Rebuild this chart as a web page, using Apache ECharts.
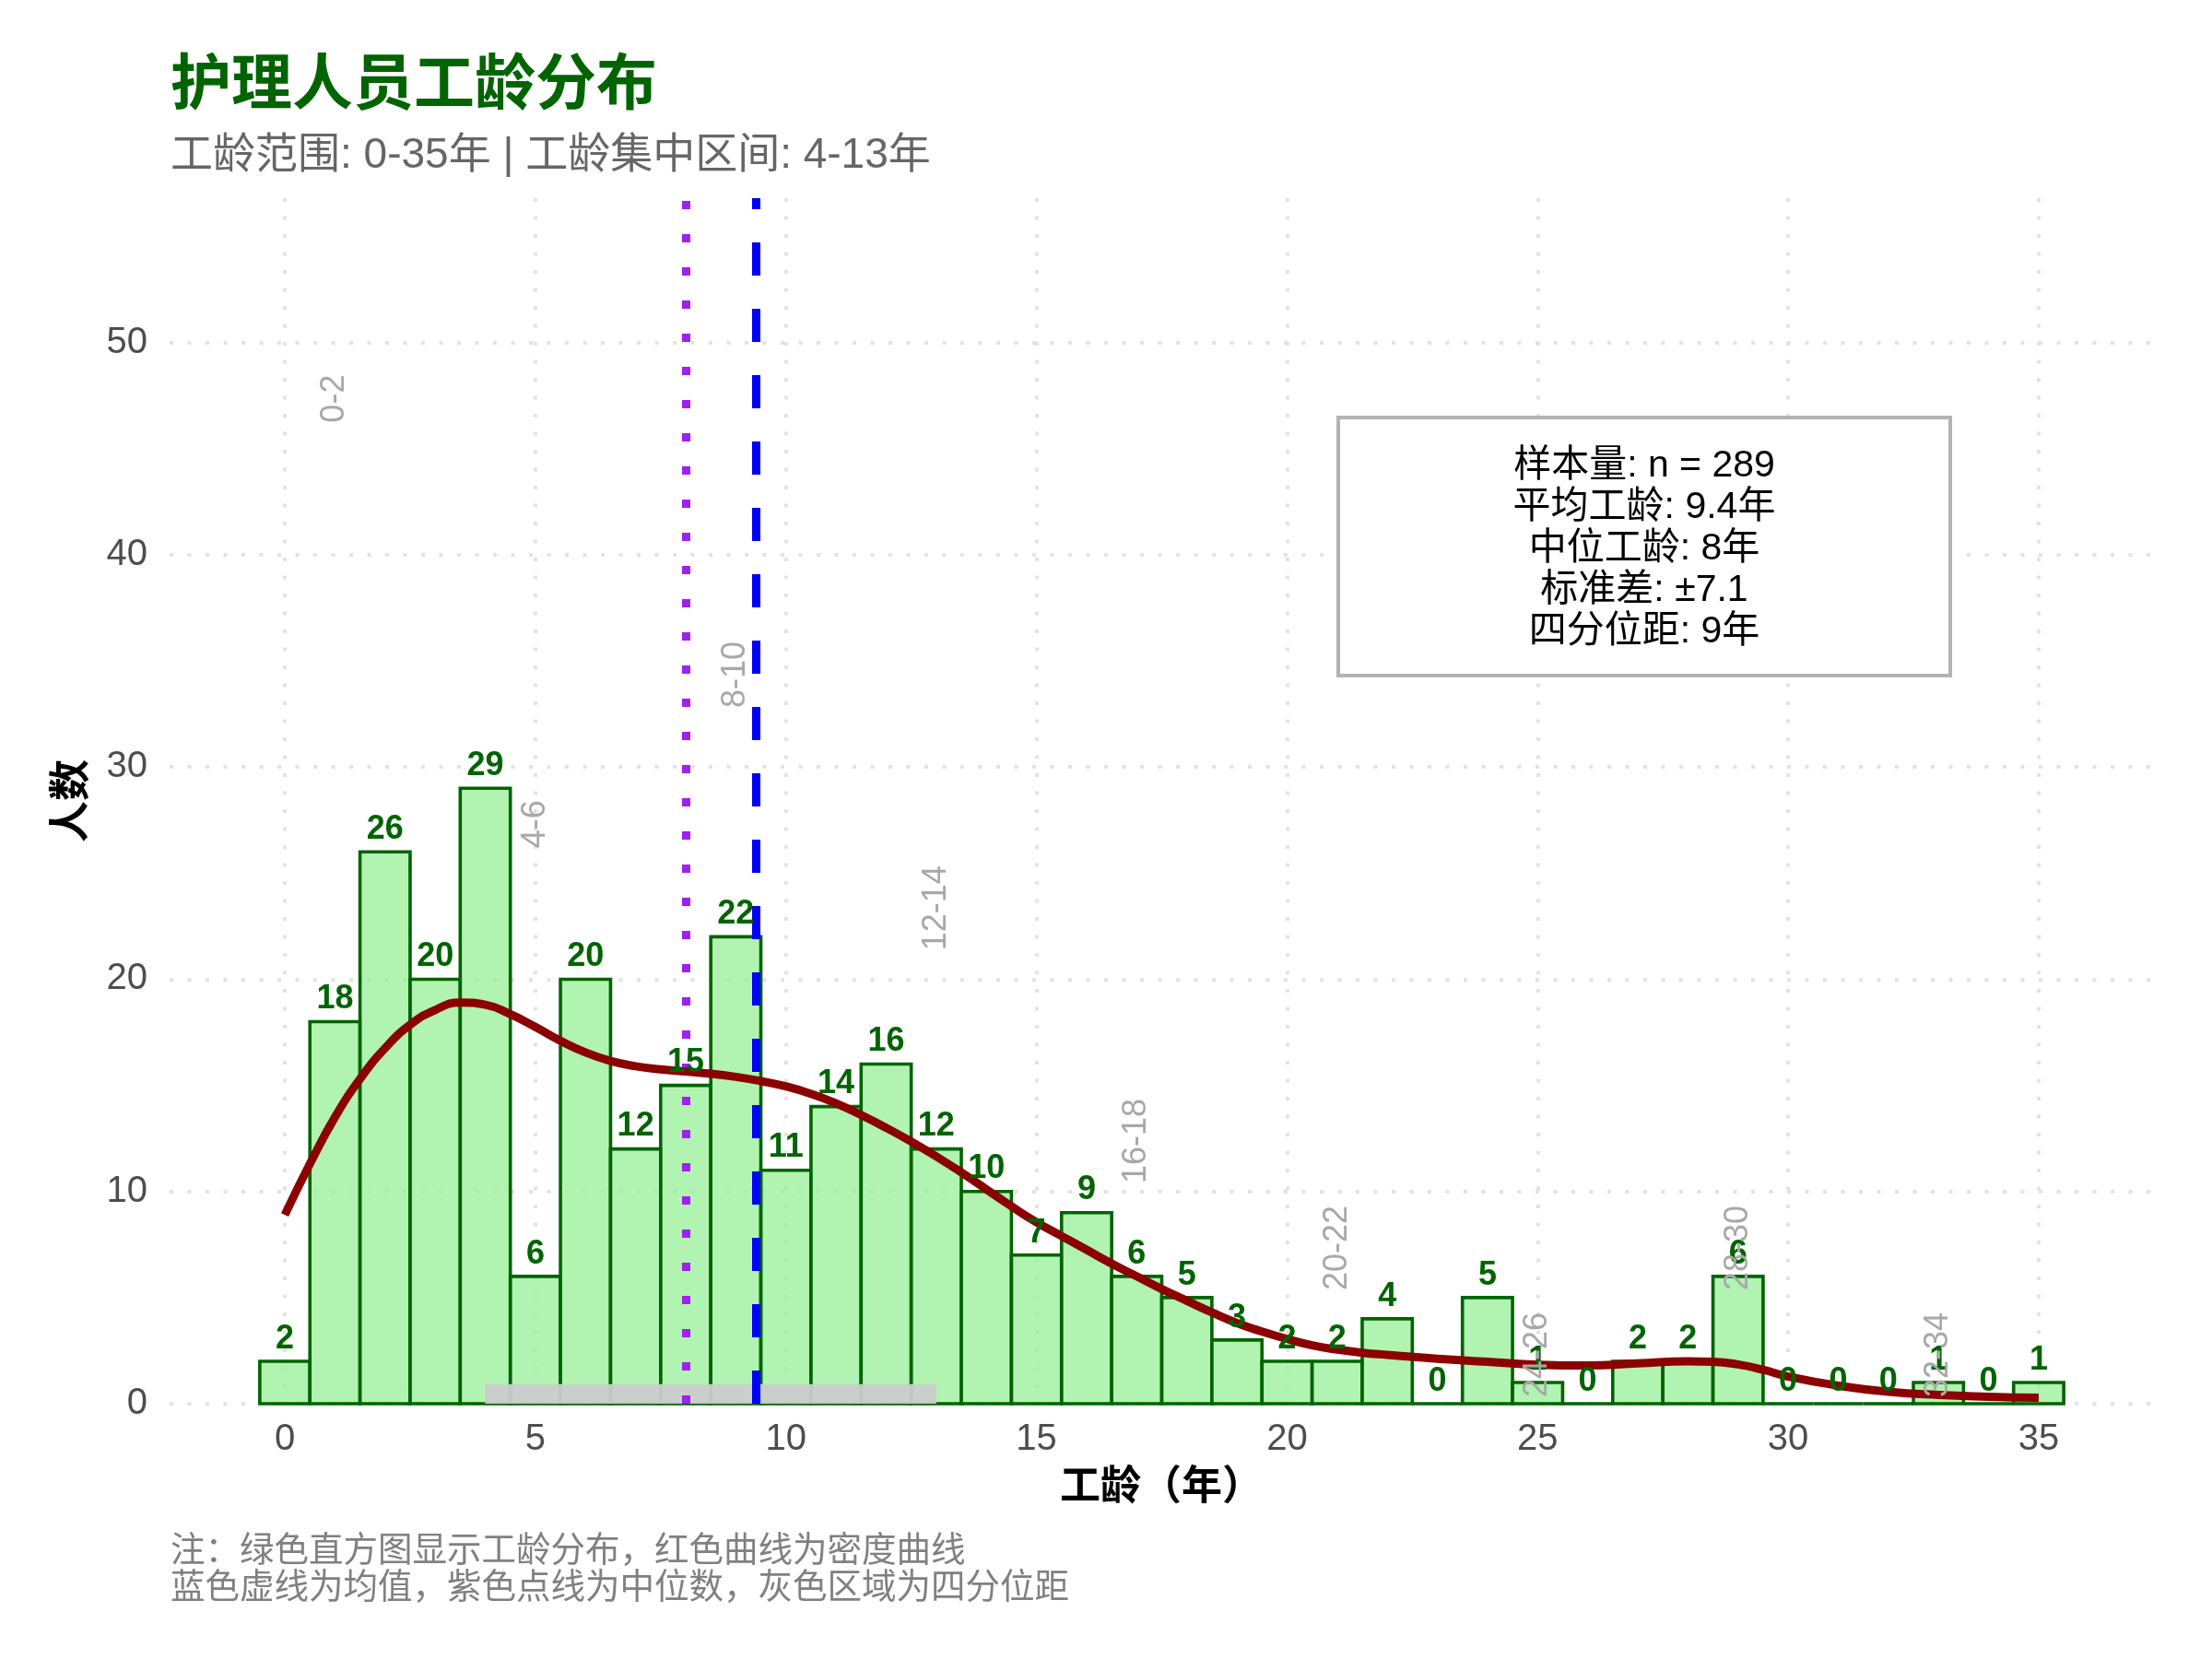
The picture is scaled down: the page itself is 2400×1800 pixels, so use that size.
<!DOCTYPE html>
<html><head><meta charset="utf-8">
<script src="https://cdn.jsdelivr.net/npm/echarts@6/dist/echarts.min.js"></script>
<style>html,body{margin:0;padding:0;background:#fff}#c{width:2400px;height:1800px}</style>
</head><body><div id="c"></div>
<script>
// ---- data ----
const years  = [0,1,2,3,4,5,6,7,8,9,10,11,12,13,14,15,16,17,18,19,20,21,22,23,24,25,26,27,28,29,30,31,32,33,34,35];
const counts = [2,18,26,20,29,6,20,12,15,22,11,14,16,12,10,7,9,6,5,3,2,2,4,0,5,1,0,2,2,6,0,0,0,1,0,1];
const densityX = [0,0.5,1,1.5,2,2.5,3,3.5,4,4.5,5,5.5,6,6.5,7,7.5,8,8.5,9,9.5,10,10.5,11,11.5,12,12.5,13,13.5,14,14.5,15,15.5,16,16.5,17,17.5,18,18.5,19,19.5,20,20.5,21,21.5,22,23,24,25,26,27,28,28.5,29,29.5,30,31,32,33,34,35];
const densityY = [8.9,11.3,13.5,15.3,16.75,17.85,18.55,18.9,18.8,18.35,17.75,17.1,16.55,16.15,15.9,15.75,15.65,15.55,15.4,15.2,14.95,14.6,14.15,13.6,13.0,12.35,11.65,10.9,10.1,9.3,8.55,7.9,7.25,6.6,6.0,5.4,4.85,4.3,3.8,3.4,3.05,2.75,2.55,2.4,2.3,2.12,1.98,1.84,1.8,1.9,2.0,1.98,1.85,1.6,1.28,0.85,0.56,0.41,0.33,0.28];
const rangeLabels = ['0-2','4-6','8-10','12-14','16-18','20-22','24-26','28-30','32-34'];
const rangeLabelX = [1,5,9,13,17,21,25,29,33];
const rangeLabelY = [47.35,27.3,34.35,23.35,12.38,7.34,2.3,7.34,2.3];
const meanYears = 9.4, medianYears = 8, q1Years = 4, q3Years = 13, iqrBandTop = 0.92;
const xTicks = [0,5,10,15,20,25,30,35];
const yTicks = [0,10,20,30,40,50];
const titleText = '护理人员工龄分布';
const subtitleText = '工龄范围: 0-35年 | 工龄集中区间: 4-13年';
const statsLines = ['样本量: n = 289','平均工龄: 9.4年','中位工龄: 8年','标准差: ±7.1','四分位距: 9年'];
const captionLines = ['注：绿色直方图显示工龄分布，红色曲线为密度曲线','蓝色虚线为均值，紫色点线为中位数，灰色区域为四分位距'];
const xName = '工龄（年）', yName = '人数';

// ---- chart ----
const FF = "'Liberation Sans', Arial, 'Noto Sans CJK SC', sans-serif";
const chart = echarts.init(document.getElementById('c'), null, {renderer:'canvas'});
const gridStyle = {color:'#e3e3e3', width:4, type:[4,15.5]};
const option = {
  animation:false,
  backgroundColor:'#ffffff',
  textStyle:{fontFamily:FF},
  grid:{left:184, right:63, top:215, bottom:277, containLabel:false},
  xAxis:{type:'value', min:-2.3, max:37.3,
    axisLine:{show:false},
    axisTick:{show:false, customValues:xTicks},
    axisLabel:{customValues:xTicks, fontSize:40, color:'#4d4d4d', margin:19, fontFamily:FF},
    splitLine:{show:true, lineStyle:gridStyle}},
  yAxis:{type:'value', min:0, max:56.8,
    axisLine:{show:false},
    axisTick:{show:false, customValues:yTicks},
    axisLabel:{customValues:yTicks, fontSize:40, color:'#4d4d4d', margin:24, fontFamily:FF},
    splitLine:{show:true, lineStyle:gridStyle}},
  series:[
    { // histogram bars
      type:'custom', z:2,
      data: years.map((y,i)=>[y, counts[i]]),
      encode:{x:0, y:1},
      renderItem(params, api){
        const x = api.value(0), c = api.value(1);
        const p0 = api.coord([x-0.5, c]), p1 = api.coord([x+0.5, 0]);
        return {type:'rect', shape:{x:p0[0], y:p0[1], width:p1[0]-p0[0], height:p1[1]-p0[1]},
          style:{fill:'rgba(144,238,144,0.7)', stroke:'#006400', lineWidth:3.6}};
      }
    },
    { // IQR band
      type:'custom', z:3,
      data:[[q1Years, q3Years, iqrBandTop]],
      encode:{x:[0,1]},
      renderItem(params, api){
        const p0 = api.coord([api.value(0), api.value(2)]), p1 = api.coord([api.value(1), 0]);
        return {type:'rect', shape:{x:p0[0], y:p0[1], width:p1[0]-p0[0], height:p1[1]-p0[1]},
          style:{fill:'rgba(204,204,204,0.95)'}};
      }
    },
    { // density curve
      type:'line', z:5, smooth:0.5, showSymbol:false, symbol:'none',
      data: densityX.map((x,i)=>[x, densityY[i]]),
      lineStyle:{color:'#8b0000', width:9, cap:'butt'},
      markLine:{silent:true, symbol:['none','none'], label:{show:false}, z:4,
        data:[
          {xAxis:medianYears, lineStyle:{color:'#a020f0', width:9, type:[9,27], cap:'butt'}},
          {xAxis:meanYears, lineStyle:{color:'#0000ff', width:9, type:[36,36], cap:'butt'}}
        ]}
    },
    { // bar value labels
      type:'custom', z:6,
      data: years.map((y,i)=>[y, counts[i]]),
      encode:{x:0, y:1},
      renderItem(params, api){
        const p = api.coord([api.value(0), api.value(1)+1.05]);
        return {type:'text', x:p[0], y:p[1],
          style:{text:String(api.value(1)), fill:'#006400', fontSize:36, fontWeight:'bold', fontFamily:FF,
            align:'center', verticalAlign:'middle'}};
      }
    },
    { // range labels
      type:'custom', z:6,
      data: rangeLabels.map((t,i)=>[rangeLabelX[i], rangeLabelY[i]]),
      encode:{x:0, y:1},
      renderItem(params, api){
        const p = api.coord([api.value(0), api.value(1)]);
        return {type:'text', x:p[0], y:p[1], rotation:Math.PI/2,
          style:{text:rangeLabels[params.dataIndex], fill:'#a8a8a8', fontSize:36, fontFamily:FF,
            align:'center', verticalAlign:'middle'}};
      }
    }
  ],
  graphic:[
    {type:'text', left:185, top:62, style:{text:titleText, fill:'#006400', fontSize:66, fontWeight:'bold', fontFamily:FF}},
    {type:'text', left:185, top:146, style:{text:subtitleText, fill:'#666666', fontSize:46, fontFamily:FF}},
    {type:'text', x:1260, y:1615, style:{text:xName, fill:'#000', fontSize:44, fontWeight:'bold', fontFamily:FF, align:'center', verticalAlign:'middle'}},
    {type:'text', x:80, y:869, rotation:Math.PI/2, style:{text:yName, fill:'#000', fontSize:45, fontWeight:'bold', fontFamily:FF, align:'center', verticalAlign:'middle'}},
    {type:'text', x:185, y:1684, style:{text:captionLines[0], fill:'#808080', fontSize:37.5, fontFamily:FF, align:'left', verticalAlign:'middle'}},
    {type:'text', x:185, y:1724, style:{text:captionLines[1], fill:'#808080', fontSize:37.5, fontFamily:FF, align:'left', verticalAlign:'middle'}},
    {type:'rect', shape:{x:1452, y:453, width:664, height:280}, style:{fill:'#ffffff', stroke:'#b3b3b3', lineWidth:4}, z:100},
    {type:'text', x:1784, y:596, z:101, style:{text:statsLines.join('\n'), fill:'#000', fontSize:41, lineHeight:45, fontFamily:FF, align:'center', verticalAlign:'middle'}}
  ]
};
chart.setOption(option);
</script></body></html>
